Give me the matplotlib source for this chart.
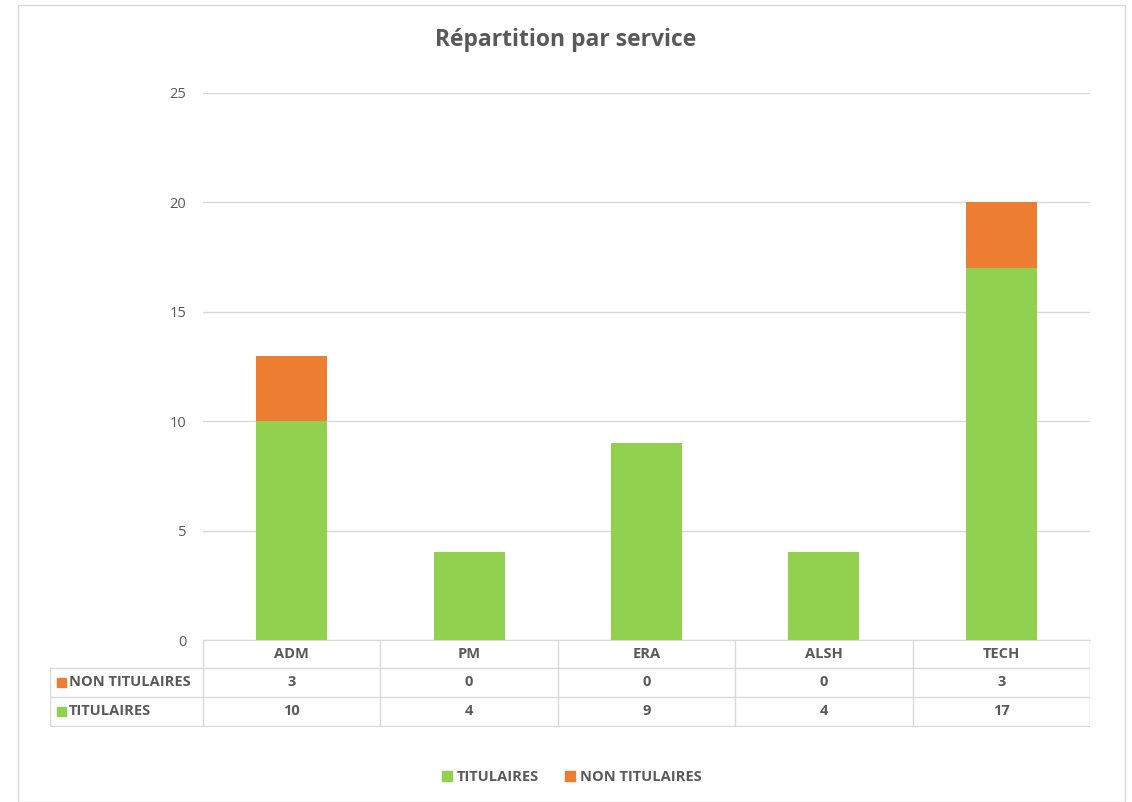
import matplotlib.pyplot as plt
import matplotlib.patches as mpatches
from matplotlib.lines import Line2D

services = ["ADM", "PM", "ERA", "ALSH", "TECH"]
titulaires = [10, 4, 9, 4, 17]
non_titulaires = [3, 0, 0, 0, 3]
y_ticks = [0, 5, 10, 15, 20, 25]

GREEN = "#92D050"
ORANGE = "#ED7D31"
GRID = "#D9D9D9"
TXT = "#595959"

plt.rcParams["font.family"] = ["Open Sans", "DejaVu Sans"]

W, H = 1132, 802
fig = plt.figure(figsize=(W / 100, H / 100), dpi=100)

def px_rect(x0, y0, x1, y1):
    # pixel box (top-left origin) -> figure fraction
    return [x0 / W, (H - y1) / H, (x1 - x0) / W, (y1 - y0) / H]

# outer chart border
fig.patches.append(mpatches.Rectangle((18 / W, 0), (1125 - 18) / W, (802 - 5) / H,
                                      transform=fig.transFigure, fill=False,
                                      edgecolor=GRID, linewidth=1))

ax = fig.add_axes(px_rect(203, 93, 1090, 640))
x = list(range(len(services)))
ax.bar(x, titulaires, width=0.4, color=GREEN, zorder=3)
ax.bar(x, non_titulaires, width=0.4, bottom=titulaires, color=ORANGE, zorder=3)
ax.set_xlim(-0.5, len(services) - 0.5)
ax.set_ylim(0, 25)
ax.set_yticks(y_ticks)
ax.yaxis.grid(True, color=GRID, linewidth=1, zorder=0)
ax.set_xticks([])
ax.tick_params(axis="y", length=0, pad=12, labelsize=10.5, labelcolor=TXT)
for s in ["top", "right", "left"]:
    ax.spines[s].set_visible(False)
ax.spines["bottom"].set_color(GRID)

fig.text(0.5, 1 - 40 / H, "Répartition par service", ha="center", va="center",
         fontsize=16.5, fontweight="bold", color=TXT)

# data table under the axis
tab = fig.add_axes(px_rect(50, 640, 1090, 727))
tab.set_xlim(50, 1090)
tab.set_ylim(727, 640)
tab.axis("off")
col_w = (1090 - 203) / len(services)
edges = [203 + i * col_w for i in range(len(services) + 1)]
rows_y = [640, 668, 697, 726]
lw = 1
for yy in rows_y[1:]:
    tab.add_line(Line2D([50, 1090], [yy, yy], color=GRID, lw=lw))
tab.add_line(Line2D([50, 50], [rows_y[1], rows_y[3]], color=GRID, lw=lw))
for ex in edges:
    tab.add_line(Line2D([ex, ex], [rows_y[0], rows_y[3]], color=GRID, lw=lw))

FS = 10.5
row_data = [("NON TITULAIRES", ORANGE, non_titulaires), ("TITULAIRES", GREEN, titulaires)]
for i, name in enumerate(services):
    cx = (edges[i] + edges[i + 1]) / 2
    tab.text(cx, (rows_y[0] + rows_y[1]) / 2, name, ha="center", va="center",
             fontsize=FS, fontweight="bold", color=TXT)
for r, (label, col, vals) in enumerate(row_data):
    cy = (rows_y[r + 1] + rows_y[r + 2]) / 2
    tab.add_patch(mpatches.Rectangle((57, cy - 4.5), 9, 9, color=col))
    tab.text(69, cy, label, ha="left", va="center", fontsize=FS,
             fontweight="bold", color=TXT)
    for i, v in enumerate(vals):
        cx = (edges[i] + edges[i + 1]) / 2
        tab.text(cx, cy, str(v), ha="center", va="center", fontsize=FS,
                 fontweight="bold", color=TXT)

handles = [mpatches.Patch(color=GREEN, label="TITULAIRES"),
           mpatches.Patch(color=ORANGE, label="NON TITULAIRES")]
leg = fig.legend(handles=handles, loc="center", bbox_to_anchor=(0.505, 1 - 777 / H),
                 ncol=2, frameon=False, handlelength=0.7, handleheight=0.7,
                 handletextpad=0.3, columnspacing=1.8,
                 prop={"size": FS, "weight": "bold"})
for t in leg.get_texts():
    t.set_color(TXT)

fig.savefig("out.png", dpi=100)
